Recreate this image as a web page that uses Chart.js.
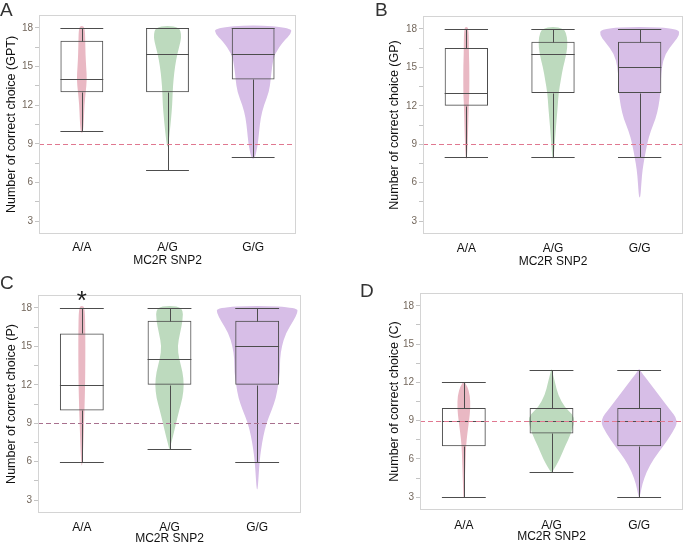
<!DOCTYPE html>
<html>
<head>
<meta charset="utf-8">
<script src="https://cdn.jsdelivr.net/npm/chart.js@4.4.1/dist/chart.umd.min.js"></script>
<style>
  html, body { margin: 0; padding: 0; background: #fff; overflow: hidden; }
  #wrap { position: relative; width: 685px; height: 545px; }
  .panel { position: absolute; }
  .letter { position: absolute; font-family: "Liberation Sans", Arial, sans-serif; font-size: 19px; line-height: 1; color: #333; }
</style>
</head>
<body>
<div id="wrap">
  <div class="panel" style="left:0;top:0;width:340px;height:270px"><canvas id="chart-a"></canvas></div>
  <div class="panel" style="left:340px;top:0;width:345px;height:270px"><canvas id="chart-b"></canvas></div>
  <div class="panel" style="left:0;top:270px;width:340px;height:275px"><canvas id="chart-c"></canvas></div>
  <div class="panel" style="left:340px;top:270px;width:345px;height:275px"><canvas id="chart-d"></canvas></div>
  <div class="letter" style="left:0;top:0">A</div>
  <div class="letter" style="left:375px;top:0">B</div>
  <div class="letter" style="left:0;top:273px">C</div>
  <div class="letter" style="left:360px;top:281px">D</div>
</div>
<script>
// violin + box plots, MC2R SNP2 genotype vs. number of correct choices

const categories = ["A/A", "A/G", "G/G"];
const yTicks     = [3, 4.5, 6, 7.5, 9, 10.5, 12, 13.5, 15, 16.5, 18];
const chanceLevel = 9;

/* ── Panel A: GPT ─────────────────────────────────────────── */
const gptMin    = [10, 7, 8];
const gptQ1     = [13, 13, 14];
const gptMedian = [14, 16, 16];
const gptQ3     = [17, 18, 18];
const gptMax    = [18, 18, 18];
// violin profiles: [value, width as share of category width]
const gptViolinAA = [[9.8,0],[10,0.03],[11,0.05],[12,0.06],[13,0.09],[14,0.12],[15,0.10],[16,0.085],[17,0.08],[18,0.07],[18.2,0]];
const gptViolinAG = [[8.7,0],[9,0.02],[10,0.055],[11,0.085],[12,0.11],[13,0.12],[14,0.14],[15,0.175],[16,0.23],[17,0.31],[17.5,0.32],[18,0.28],[18.2,0]];
const gptViolinGG = [[7.8,0],[8,0.05],[8.5,0.08],[9,0.11],[10,0.14],[11,0.175],[12,0.25],[13,0.37],[14,0.41],[15,0.44],[16,0.5],[17,0.72],[17.5,0.88],[18,0.9],[18.25,0]];

/* ── Panel B: GP ──────────────────────────────────────────── */
const gpMin    = [8, 8, 8];
const gpQ1     = [12, 13, 13];
const gpMedian = [13, 16, 15];
const gpQ3     = [16.5, 17, 17];
const gpMax    = [18, 18, 18];
const gpViolinAA = [[7.8,0],[8,0.015],[9,0.03],[10,0.04],[12,0.055],[13,0.07],[15,0.07],[16,0.06],[18,0.055],[18.2,0]];
const gpViolinAG = [[7.8,0],[8,0.015],[9,0.04],[10,0.06],[11,0.085],[12,0.11],[13,0.13],[14,0.18],[15,0.23],[16,0.31],[17,0.34],[17.7,0.3],[18,0.24],[18.2,0]];
const gpViolinGG = [[4.8,0],[5,0.02],[6,0.04],[7,0.065],[8,0.115],[9,0.17],[10,0.25],[11,0.37],[12,0.44],[13,0.48],[14,0.49],[15,0.51],[16,0.58],[17,0.8],[17.5,0.92],[18,0.9],[18.2,0]];

/* ── Panel C: P ───────────────────────────────────────────── */
const pMin    = [6, 7, 6];
const pQ1     = [10, 12, 12];
const pMedian = [12, 14, 15];
const pQ3     = [16, 17, 17];
const pMax    = [18, 18, 18];
const pViolinAA = [[5.6,0],[6,0.015],[7,0.03],[8,0.04],[9,0.05],[10,0.06],[12,0.075],[14,0.08],[16,0.08],[18,0.07],[18.2,0]];
const pViolinAG = [[6.9,0],[7.2,0.02],[8,0.08],[9,0.15],[10,0.22],[11,0.3],[12,0.33],[13,0.3],[14,0.22],[15,0.18],[16,0.24],[17,0.3],[18,0.31],[18.2,0]];
const pViolinGG = [[3.8,0],[4,0.015],[5,0.035],[6,0.055],[7,0.09],[8,0.14],[9,0.21],[10,0.33],[11,0.43],[12,0.48],[13,0.52],[14,0.52],[15,0.56],[16,0.65],[17,0.83],[17.6,0.92],[18,0.92],[18.2,0]];
const pStars = ["*", "", ""];

/* ── Panel D: C ───────────────────────────────────────────── */
const cMin    = [3, 5, 3];
const cQ1     = [7, 8, 7];
const cMedian = [9, 9, 9];
const cQ3     = [10, 10, 10];
const cMax    = [12, 13, 13];
const cViolinAA = [[2.9,0],[3,0.01],[4,0.02],[5,0.03],[6,0.04],[7,0.05],[8,0.08],[9,0.12],[10,0.15],[11,0.14],[11.7,0.08],[12.1,0]];
const cViolinAG = [[4.9,0],[5.2,0.06],[6,0.19],[7,0.31],[8,0.45],[9,0.53],[9.5,0.48],[10,0.31],[11,0.15],[12,0.08],[12.8,0.02],[13.1,0]];
const cViolinGG = [[2.9,0],[3.3,0.03],[4,0.07],[5,0.17],[6,0.33],[7,0.55],[8,0.75],[9,0.9],[10,0.67],[11,0.45],[12,0.23],[12.8,0.05],[13.1,0]];

/* ── Styling ──────────────────────────────────────────────── */
const FONT         = '"Liberation Sans", Arial, sans-serif';
const violinColors = ["#e9b8c3", "#bddabe", "#d7bee7"];
const boxColor     = "#4d4d4d";
const frameColor   = "#d4d4d4";

Chart.defaults.font.family = FONT;

function smoothClosed(ctx, pts) {
  const n = pts.length;
  const mid = (a, b) => ({ x: (a.x + b.x) / 2, y: (a.y + b.y) / 2 });
  const m0 = mid(pts[n - 1], pts[0]);
  ctx.moveTo(m0.x, m0.y);
  for (let i = 0; i < n; i++) {
    const m = mid(pts[i], pts[(i + 1) % n]);
    ctx.quadraticCurveTo(pts[i].x, pts[i].y, m.x, m.y);
  }
  ctx.closePath();
}

const violinBoxPlugin = {
  id: "violinBox",
  beforeDatasetsDraw(chart, args, o) {
    const { ctx, scales: { x, y } } = chart;
    const catW = x.width / categories.length;
    o.violins.forEach((prof, i) => {
      const cx = x.getPixelForValue(i);
      const right = prof.map(([v, w]) => ({ x: cx + w * catW / 2, y: y.getPixelForValue(v) }));
      const left  = prof.slice(1, -1).reverse().map(([v, w]) => ({ x: cx - w * catW / 2, y: y.getPixelForValue(v) }));
      ctx.save();
      ctx.beginPath();
      smoothClosed(ctx, right.concat(left));
      ctx.fillStyle = violinColors[i];
      ctx.fill();
      ctx.restore();
    });
  },
  afterDatasetsDraw(chart, args, o) {
    const { ctx, chartArea: a, scales: { y } } = chart;
    const py = v => Math.round(y.getPixelForValue(v)) + 0.5;
    const line = (x1, y1, x2, y2) => { ctx.beginPath(); ctx.moveTo(x1, y1); ctx.lineTo(x2, y2); ctx.stroke(); };
    ctx.save();
    ctx.lineWidth = 1;
    ctx.strokeStyle = boxColor;
    chart.getDatasetMeta(0).data.forEach((bar, i) => {
      const xl = bar.x - bar.width / 2, xr = bar.x + bar.width / 2;
      const cx = Math.round(bar.x) + 0.5;
      line(xl, py(o.median[i]), xr, py(o.median[i]));
      line(cx, py(o.q3[i]), cx, py(o.max[i]));
      line(cx, py(o.q1[i]), cx, py(o.min[i]));
      line(xl, py(o.max[i]), xr, py(o.max[i]));
      line(xl, py(o.min[i]), xr, py(o.min[i]));
    });
    // chance level
    ctx.setLineDash([5, 3]);
    ctx.strokeStyle = o.dashColor;
    line(a.left, py(chanceLevel), a.right, py(chanceLevel));
    ctx.setLineDash([]);
    // frame
    ctx.strokeStyle = frameColor;
    ctx.strokeRect(Math.round(a.left) + 0.5, Math.round(a.top) + 0.5,
                   Math.round(a.right - a.left) - 1, Math.round(a.bottom - a.top) - 1);
    // significance marks
    if (o.stars) {
      ctx.fillStyle = "#222";
      ctx.font = "26px " + FONT;
      ctx.textAlign = "center";
      ctx.textBaseline = "top";
      o.stars.forEach((s, i) => {
        if (s) ctx.fillText(s, chart.scales.x.getPixelForValue(i), a.top - 6);
      });
    }
    ctx.restore();
  },
};

function makePanel(id, p) {
  const L = p.layout;
  return new Chart(document.getElementById(id), {
    type: "bar",
    data: {
      labels: categories,
      datasets: [{
        data: p.q1.map((q, i) => [q, p.q3[i]]),
        backgroundColor: "rgba(0,0,0,0)",
        borderColor: boxColor,
        borderWidth: 1,
        borderSkipped: false,
        barPercentage: 0.5,
        categoryPercentage: 1,
      }],
    },
    options: {
      responsive: true, maintainAspectRatio: false,
      animation: false,
      layout: { padding: { left: 0, top: L.top, right: L.width - L.right, bottom: 0 } },
      plugins: {
        legend: { display: false },
        tooltip: { enabled: false },
        violinBox: { violins: p.violins, median: p.median, q1: p.q1, q3: p.q3,
                     min: p.min, max: p.max, dashColor: p.dashColor, stars: p.stars },
      },
      scales: {
        x: {
          afterFit: s => { s.height = L.height - L.bottom; },
          grid: { display: false, drawTicks: false },
          border: { display: false },
          ticks: { color: "#111", font: { size: 12 }, padding: L.labelY - L.bottom - 7.2 },
          title: { display: true, text: "MC2R SNP2", color: "#111",
                   font: { size: 12, lineHeight: 1 },
                   padding: { top: 0, bottom: L.height - 6 - L.xTitleY } },
        },
        y: {
          min: 2, max: 19,
          afterBuildTicks: s => { s.ticks = yTicks.map(v => ({ value: v })); },
          afterFit: s => { s.width = L.left; },
          grid: { drawOnChartArea: false, drawTicks: true, tickLength: 4, color: "#c4c4c4" },
          border: { display: false },
          ticks: { callback: v => (v % 3 === 0 ? v : ""), color: "#74685d",
                   font: { size: 10 }, padding: 2, autoSkip: false },
          title: { display: true, text: p.yTitle, color: "#111",
                   font: { size: 12.5 }, padding: { top: L.yTitleX - 7.5, bottom: 0 } },
        },
      },
    },
    plugins: [violinBoxPlugin],
  });
}

makePanel("chart-a", {
  yTitle: "Number of correct choice (GPT)",
  min: gptMin, q1: gptQ1, median: gptMedian, q3: gptQ3, max: gptMax,
  violins: [gptViolinAA, gptViolinAG, gptViolinGG],
  dashColor: "#e07890",
  layout: { width: 340, height: 270, left: 39, right: 296, top: 15, bottom: 234, labelY: 248, xTitleY: 261, yTitleX: 12 },
});

makePanel("chart-b", {
  yTitle: "Number of correct choice (GP)",
  min: gpMin, q1: gpQ1, median: gpMedian, q3: gpQ3, max: gpMax,
  violins: [gpViolinAA, gpViolinAG, gpViolinGG],
  dashColor: "#e07890",
  layout: { width: 345, height: 270, left: 83, right: 343, top: 16, bottom: 234, labelY: 249, xTitleY: 262, yTitleX: 55 },
});

makePanel("chart-c", {
  yTitle: "Number of correct choice (P)",
  min: pMin, q1: pQ1, median: pMedian, q3: pQ3, max: pMax,
  violins: [pViolinAA, pViolinAG, pViolinGG],
  dashColor: "#a8708e",
  stars: pStars,
  layout: { width: 340, height: 275, left: 38, right: 301, top: 25, bottom: 243, labelY: 258, xTitleY: 269, yTitleX: 12 },
});

makePanel("chart-d", {
  yTitle: "Number of correct choice (C)",
  min: cMin, q1: cQ1, median: cMedian, q3: cQ3, max: cMax,
  violins: [cViolinAA, cViolinAG, cViolinGG],
  dashColor: "#e07890",
  layout: { width: 345, height: 275, left: 80, right: 343, top: 23, bottom: 240, labelY: 256, xTitleY: 267, yTitleX: 55 },
});
</script>
</body>
</html>
